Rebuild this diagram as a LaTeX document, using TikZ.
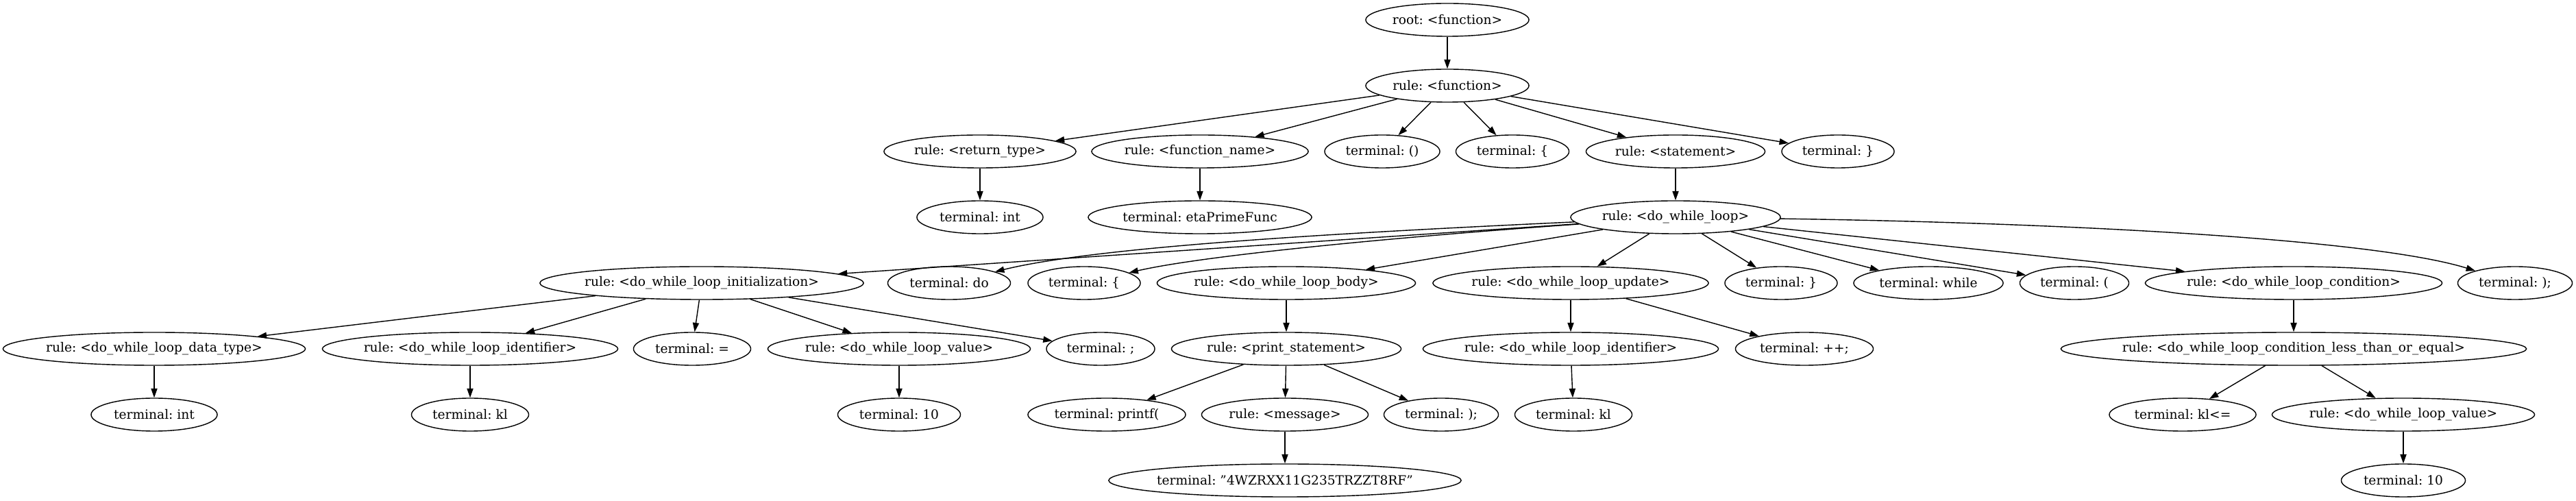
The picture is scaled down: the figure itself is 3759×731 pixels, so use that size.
\documentclass[tikz,border=0pt]{standalone}
\usepackage{fontspec}
\setmainfont{DejaVu Serif}
\usetikzlibrary{shapes.geometric,arrows.meta}
\frenchspacing
\tikzset{
  nd/.style={draw, ellipse, line width=0.4pt, minimum height=0.48cm, minimum width=#1, inner sep=0pt, font=\fontsize{5.3pt}{6pt}\selectfont},
  e/.style={-{Triangle[length=3.8pt,width=2.6pt]}, line width=0.4pt}
}
\newcommand{\T}[1]{\makebox[0pt]{#1}}
\newcommand{\dq}{\char34\relax}
\begin{document}
\begin{tikzpicture}[x=0.01cm,y=0.01cm]
\useasboundingbox (0,0) rectangle (3759,-731);
% row 1-2
\node[nd=2.38cm] (root) at (2112,-29) {\T{root: <function>}};
\node[nd=2.38cm] (fn) at (2112,-125) {\T{rule: <function>}};
% row 3
\node[nd=2.80cm] (rt) at (1430,-221) {\T{rule: <return\_type>}};
\node[nd=3.16cm] (fname) at (1751,-221) {\T{rule: <function\_name>}};
\node[nd=1.68cm] (tparen) at (2017,-221) {\T{terminal: ()}};
\node[nd=1.65cm] (tlb) at (2207,-221) {\T{terminal: \{}};
\node[nd=2.61cm] (stmt) at (2445,-221) {\T{rule: <statement>}};
\node[nd=1.64cm] (trb) at (2682,-221) {\T{terminal: \}}};
% row 4
\node[nd=1.84cm] (tint) at (1430,-317) {\T{terminal: int}};
\node[nd=3.26cm] (teta) at (1751,-317) {\T{terminal: etaPrimeFunc}};
\node[nd=3.06cm] (dwl) at (2445,-317) {\T{rule: <do\_while\_loop>}};
% row 5
\node[nd=4.72cm] (init) at (1024,-413) {\T{rule: <do\_while\_loop\_initialization>}};
\node[nd=1.79cm] (tdo) at (1385,-413) {\T{terminal: do}};
\node[nd=1.64cm] (tlb2) at (1582,-413) {\T{terminal: \{}};
\node[nd=3.77cm] (body) at (1877,-413) {\T{rule: <do\_while\_loop\_body>}};
\node[nd=4.02cm] (upd) at (2292,-413) {\T{rule: <do\_while\_loop\_update>}};
\node[nd=1.64cm] (trb2) at (2599,-413) {\T{terminal: \}}};
\node[nd=2.18cm] (twhile) at (2814,-413) {\T{terminal: while}};
\node[nd=1.59cm] (tlp) at (3027,-413) {\T{terminal: (}};
\node[nd=4.33cm] (cond) at (3347,-413) {\T{rule: <do\_while\_loop\_condition>}};
\node[nd=1.67cm] (tend) at (3670,-413) {\T{terminal: );}};
% row 6
\node[nd=4.41cm] (dtype) at (225,-509) {\T{rule: <do\_while\_loop\_data\_type>}};
\node[nd=4.31cm] (ident) at (686,-509) {\T{rule: <do\_while\_loop\_identifier>}};
\node[nd=1.71cm] (teq) at (1010,-509) {\T{terminal: =}};
\node[nd=3.83cm] (val) at (1312,-509) {\T{rule: <do\_while\_loop\_value>}};
\node[nd=1.58cm] (tsemi) at (1606,-509) {\T{terminal: ;}};
\node[nd=3.35cm] (pst) at (1877,-509) {\T{rule: <print\_statement>}};
\node[nd=4.31cm] (ident2) at (2292,-509) {\T{rule: <do\_while\_loop\_identifier>}};
\node[nd=2.01cm] (tpp) at (2633,-509) {\T{terminal: ++;}};
\node[nd=6.79cm] (lte) at (3347,-509) {\T{rule: <do\_while\_loop\_condition\_less\_than\_or\_equal>}};
% row 7
\node[nd=1.84cm] (tint2) at (225,-605) {\T{terminal: int}};
\node[nd=1.71cm] (tkl) at (686,-605) {\T{terminal: kl}};
\node[nd=1.79cm] (t10) at (1312,-605) {\T{terminal: 10}};
\node[nd=2.30cm] (tprintf) at (1615,-605) {\T{terminal: printf(}};
\node[nd=2.43cm] (msg) at (1875,-605) {\T{rule: <message>}};
\node[nd=1.67cm] (trp) at (2103,-605) {\T{terminal: );}};
\node[nd=1.71cm] (tkl2) at (2296,-605) {\T{terminal: kl}};
\node[nd=2.14cm] (tkle) at (3185,-605) {\T{terminal: kl<=}};
\node[nd=3.83cm] (val2) at (3507,-605) {\T{rule: <do\_while\_loop\_value>}};
% row 8
\node[nd=5.14cm] (tstr) at (1875,-701) {\T{terminal: \dq4WZRXX11G235TRZZT8RF\dq}};
\node[nd=1.81cm] (t10b) at (3507,-701) {\T{terminal: 10}};
% edges
\draw[e] (root) -- (fn);
\draw[e] (fn) -- (rt);
\draw[e] (fn) -- (fname);
\draw[e] (fn) -- (tparen);
\draw[e] (fn) -- (tlb);
\draw[e] (fn) -- (stmt);
\draw[e] (fn) -- (trb);
\draw[e] (rt) -- (tint);
\draw[e] (fname) -- (teta);
\draw[e] (stmt) -- (dwl);
\draw[e] (dwl) -- (init);
\draw[e] (dwl) .. controls (1950,-340) and (1600,-360) .. (tdo);
\draw[e] (dwl) .. controls (2050,-345) and (1760,-372) .. (tlb2);
\draw[e] (dwl) -- (body);
\draw[e] (dwl) -- (upd);
\draw[e] (dwl) -- (trb2);
\draw[e] (dwl) -- (twhile);
\draw[e] (dwl) -- (tlp);
\draw[e] (dwl) -- (cond);
\draw[e] (dwl) .. controls (2950,-324) and (3450,-345) .. (tend);
\draw[e] (init) -- (dtype);
\draw[e] (init) -- (ident);
\draw[e] (init) -- (teq);
\draw[e] (init) -- (val);
\draw[e] (init) -- (tsemi);
\draw[e] (body) -- (pst);
\draw[e] (upd) -- (ident2);
\draw[e] (upd) -- (tpp);
\draw[e] (cond) -- (lte);
\draw[e] (dtype) -- (tint2);
\draw[e] (ident) -- (tkl);
\draw[e] (val) -- (t10);
\draw[e] (pst) -- (tprintf);
\draw[e] (pst) -- (msg);
\draw[e] (pst) -- (trp);
\draw[e] (ident2) -- (tkl2);
\draw[e] (lte) -- (tkle);
\draw[e] (lte) -- (val2);
\draw[e] (msg) -- (tstr);
\draw[e] (val2) -- (t10b);
\end{tikzpicture}
\end{document}
